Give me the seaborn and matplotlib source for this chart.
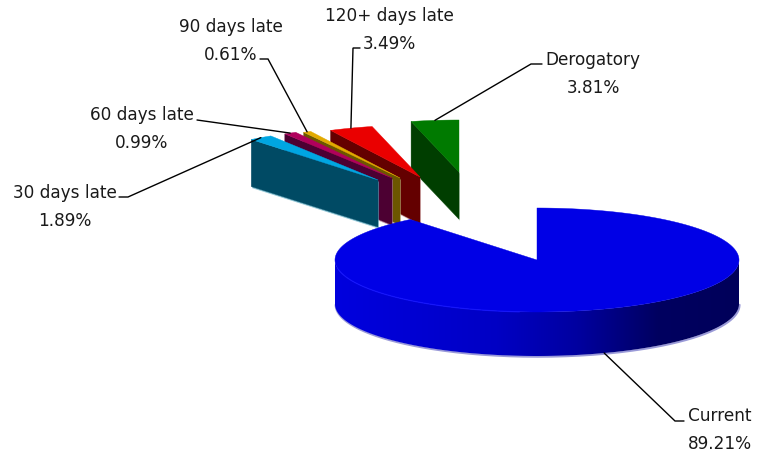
import numpy as np
import matplotlib
matplotlib.use("Agg")
import matplotlib.pyplot as plt
from matplotlib.patches import Polygon
import seaborn as sns

# Delinquency shares, clockwise from twelve o'clock
categories = ["Current", "30 days late", "60 days late", "90 days late", "120+ days late", "Derogatory"]
shares = [89.21, 1.89, 0.99, 0.61, 3.49, 3.81]

top_colors = ["#0000e6", "#00a6e2", "#b0005c", "#e2aa00", "#ea0000", "#007a00"]
wall_colors = ["#0000c0", "#004a64", "#4c0032", "#6c5600", "#640000", "#003e00"]
fringe_colors = ["#9a9ad8", "#6fb4c8", "#b98aa6", "#c4b888", "#c99a9a", "#8fb08f"]

# Apex of each wedge on the canvas, in pixels
apex_x = [537, 378, 392, 400, 420, 459]
apex_y = [261, 181, 179, 179, 178, 173]
depths = [44, 47, 47, 47, 47, 47]
RX, RY = 202, 52

# Label placement: text centre x, name line y, value line y, elbow start, elbow end
label_x = [720, 65, 142, 231, 389, 593]
label_name_y = [416, 193, 115, 27, 16, 60]
label_value_y = [444, 221, 143, 55, 44, 88]
elbow_a = [(684, 422), (119, 198), (197, 121), (260, 60), (360, 49), (542, 65)]
elbow_b = [(675, 422), (128, 198), (197, 121), (268, 60), (353, 49), (531, 65)]

sns.set_theme(style="white")
plt.rcParams["font.family"] = ["DejaVu Sans"]

fig = plt.figure(figsize=(7.57, 4.56), dpi=100, facecolor="white")
ax = fig.add_axes([0, 0, 1, 1])
ax.set_xlim(0, 757)
ax.set_ylim(456, 0)
ax.set_axis_off()


def rim(cx, cy, angles):
    rad = np.deg2rad(angles)
    return np.column_stack([cx + RX * np.cos(rad), cy - RY * np.sin(rad)])


# Clockwise sweep: each slice runs from start[i] down to start[i] - sweep[i]
sweep = np.array(shares) / sum(shares) * 360
start = 90 - np.concatenate([[0], np.cumsum(sweep)[:-1]])
mid = start - sweep / 2

# Exploded slices, painted from the back right towards the front left
for i in range(len(categories) - 1, 0, -1):
    cx, cy, d = apex_x[i], apex_y[i], depths[i]
    a0 = np.array([[cx, cy]])
    outer = rim(cx, cy, start[i])
    wall = np.vstack([outer, a0, a0 + [0, d], outer + [0, d]])
    ax.add_patch(Polygon(wall + [0.8, 1.6], closed=True, fc=fringe_colors[i], ec="none", alpha=0.8, zorder=2))
    ax.add_patch(Polygon(wall, closed=True, fc=wall_colors[i], ec=wall_colors[i], lw=0.3, zorder=2))
    arc = rim(cx, cy, np.linspace(start[i], start[i] - sweep[i], 12))
    ax.add_patch(Polygon(np.vstack([a0, arc]), closed=True, fc=top_colors[i], ec=top_colors[i], lw=0.3, zorder=2))

# Main slice: rim wall shaded from left to right, then the top face
cx, cy, d = apex_x[0], apex_y[0], depths[0]
front_rim = rim(cx, cy, np.linspace(180, 360, 181))
ax.plot(front_rim[:, 0] + 0.6, front_rim[:, 1] + d + 0.8, color=fringe_colors[0], lw=1.4, zorder=3)

shade = sns.blend_palette(["#0000de", "#0000d2", "#0000c4", "#0000a0", "#000060", "#00005a"], 256)
wall_outline = np.vstack([front_rim, front_rim[::-1] + [0, d]])
clip = Polygon(wall_outline, closed=True, transform=ax.transData, fc="none", ec="none")
ax.add_patch(clip)
gradient = ax.imshow(
    np.array(shade)[np.newaxis, :, :],
    extent=(cx - RX, cx + RX, cy + RY + d + 2, cy - 2),
    aspect="auto",
    interpolation="bilinear",
    zorder=3,
)
gradient.set_clip_path(clip)
ax.set_xlim(0, 757)
ax.set_ylim(456, 0)

arc = rim(cx, cy, np.linspace(start[0], start[0] - sweep[0], 400))
ax.add_patch(Polygon(np.vstack([[[cx, cy]], arc]), closed=True, fc=top_colors[0], ec=top_colors[0], lw=0.3, zorder=4))
glint = rim(cx, cy, np.linspace(190, 265, 60))
ax.plot(glint[:, 0], glint[:, 1], color="#1414ff", lw=0.9, alpha=0.8, zorder=5)

# Leader lines run from each label's elbow to the middle of its slice's rim
for i, name in enumerate(categories):
    tx, ty = rim(apex_x[i], apex_y[i], mid[i])[0]
    if i == 0:
        ty += depths[0]
    xs = [elbow_a[i][0], elbow_b[i][0], tx]
    ys = [elbow_a[i][1], elbow_b[i][1], ty]
    ax.plot(xs, ys, color="black", lw=1.0, zorder=6, solid_joinstyle="miter")
    ax.text(label_x[i], label_name_y[i], name, ha="center", va="center", fontsize=12.2, color="#1a1a1a", zorder=7)
    ax.text(label_x[i], label_value_y[i], f"{shares[i]:.2f}%", ha="center", va="center", fontsize=12.2, color="#1a1a1a", zorder=7)

fig.savefig("out.png", dpi=100, facecolor="white")
